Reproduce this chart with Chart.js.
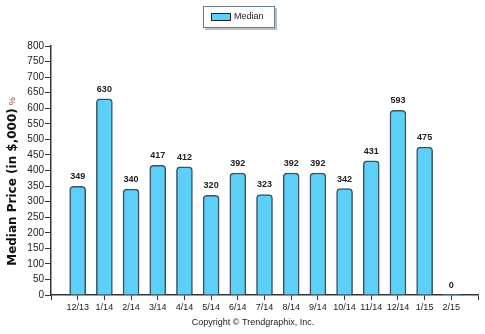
<!DOCTYPE html>
<html>
<head>
<meta charset="utf-8">
<script src="https://cdn.jsdelivr.net/npm/chart.js@4/dist/chart.umd.min.js"></script>
<style>
  html, body { margin: 0; padding: 0; background: #fff; }
  #wrap { width: 485px; height: 334px; }
</style>
</head>
<body>
<div id="wrap"><canvas id="chart" width="485" height="334"></canvas></div>
<script>
const months = ["12/13", "1/14", "2/14", "3/14", "4/14", "5/14", "6/14", "7/14",
  "8/14", "9/14", "10/14", "11/14", "12/14", "1/15", "2/15"];
const medianPrice = [349, 630, 340, 417, 412, 320, 392, 323, 392, 392, 342, 431, 593, 475, 0];
const seriesName = "Median";
const yTitle = "Median Price (in $,000)";

const FILL = "#5cd0f8";
const EDGE = "#3b525e";
const FONT = "'Liberation Sans', Arial, sans-serif";

// value labels above bars
const valueLabels = {
  id: "valueLabels",
  afterDatasetsDraw(chart) {
    const ctx = chart.ctx;
    const meta = chart.getDatasetMeta(0);
    ctx.save();
    ctx.font = "bold 9px " + FONT;
    ctx.fillStyle = "#222";
    ctx.textAlign = "center";
    ctx.textBaseline = "bottom";
    meta.data.forEach((bar, i) => {
      ctx.fillText(String(medianPrice[i]), bar.x, bar.y - 5);
    });
    ctx.restore();
  }
};

// legend box, axis title, copyright
const extras = {
  id: "extras",
  afterDraw(chart) {
    const ctx = chart.ctx;
    ctx.save();
    // legend
    ctx.fillStyle = "rgba(0,0,0,0.25)";
    ctx.fillRect(205, 8, 72, 22);
    ctx.fillStyle = "#fff";
    ctx.fillRect(203, 6, 72, 22);
    ctx.strokeStyle = "#6c7f92";
    ctx.lineWidth = 1;
    ctx.strokeRect(203.5, 6.5, 71, 21);
    ctx.fillStyle = FILL;
    ctx.fillRect(211, 13, 19, 7);
    ctx.strokeStyle = "#222";
    ctx.strokeRect(211.5, 13.5, 19, 7);
    ctx.fillStyle = "#222";
    ctx.font = "9px " + FONT;
    ctx.textBaseline = "middle";
    ctx.textAlign = "left";
    ctx.fillText(seriesName, 234, 17);

    // y axis title
    ctx.translate(13, 187);
    ctx.rotate(-Math.PI / 2);
    ctx.font = "bold 12px 'DejaVu Sans', Verdana, sans-serif";
    ctx.textAlign = "center";
    ctx.fillStyle = "#111";
    const w = ctx.measureText(yTitle).width;
    ctx.fillText(yTitle, 0, 0);
    ctx.font = "9px " + FONT;
    ctx.fillStyle = "#8a3b2a";
    ctx.textAlign = "left";
    ctx.fillText("%", w / 2 + 3, 0);
    ctx.setTransform(1, 0, 0, 1, 0, 0);

    // copyright
    ctx.font = "9px " + FONT;
    ctx.fillStyle = "#222";
    ctx.textAlign = "center";
    ctx.fillText("Copyright \u00A9 Trendgraphix, Inc.", 253, 323);
    ctx.restore();
  }
};

new Chart(document.getElementById("chart"), {
  type: "bar",
  data: {
    datasets: [{
      label: seriesName,
      data: medianPrice.map((v, i) => ({ x: i, y: v })),
      backgroundColor: FILL,
      borderColor: EDGE,
      borderWidth: (c) => (medianPrice[c.dataIndex] === 0 ? 0 : 1.5),
      borderSkipped: "bottom",
      borderRadius: { topLeft: 4, topRight: 4, bottomLeft: 0, bottomRight: 0 },
      barThickness: 16
    }]
  },
  options: {
    responsive: false,
    animation: false,
    layout: { padding: { left: 0, right: 7, top: 46, bottom: 0 } },
    plugins: { legend: { display: false }, tooltip: { enabled: false } },
    scales: {
      x: {
        type: "linear",
        offset: false,
        min: -1,
        max: 15,
        afterFit(scale) { scale.height = 39; },
        border: { color: "#333", width: 1.5 },
        grid: { offset: false, drawOnChartArea: false, tickLength: 5, color: "#333", tickWidth: 1 },
        ticks: {
          stepSize: 1,
          autoSkip: false,
          maxRotation: 0,
          color: "#222",
          font: { family: FONT, size: 9 },
          padding: 2,
          callback: (v) => months[v] || ""
        }
      },
      y: {
        min: 0,
        max: 800,
        afterFit(scale) { scale.width = 51; },
        border: { color: "#333", width: 1.5 },
        grid: { drawOnChartArea: false, tickLength: 6, color: "#333", tickWidth: 1 },
        ticks: {
          stepSize: 50,
          color: "#222",
          font: { family: FONT, size: 10 },
          padding: 1
        }
      }
    }
  },
  plugins: [valueLabels, extras]
});
</script>
</body>
</html>
